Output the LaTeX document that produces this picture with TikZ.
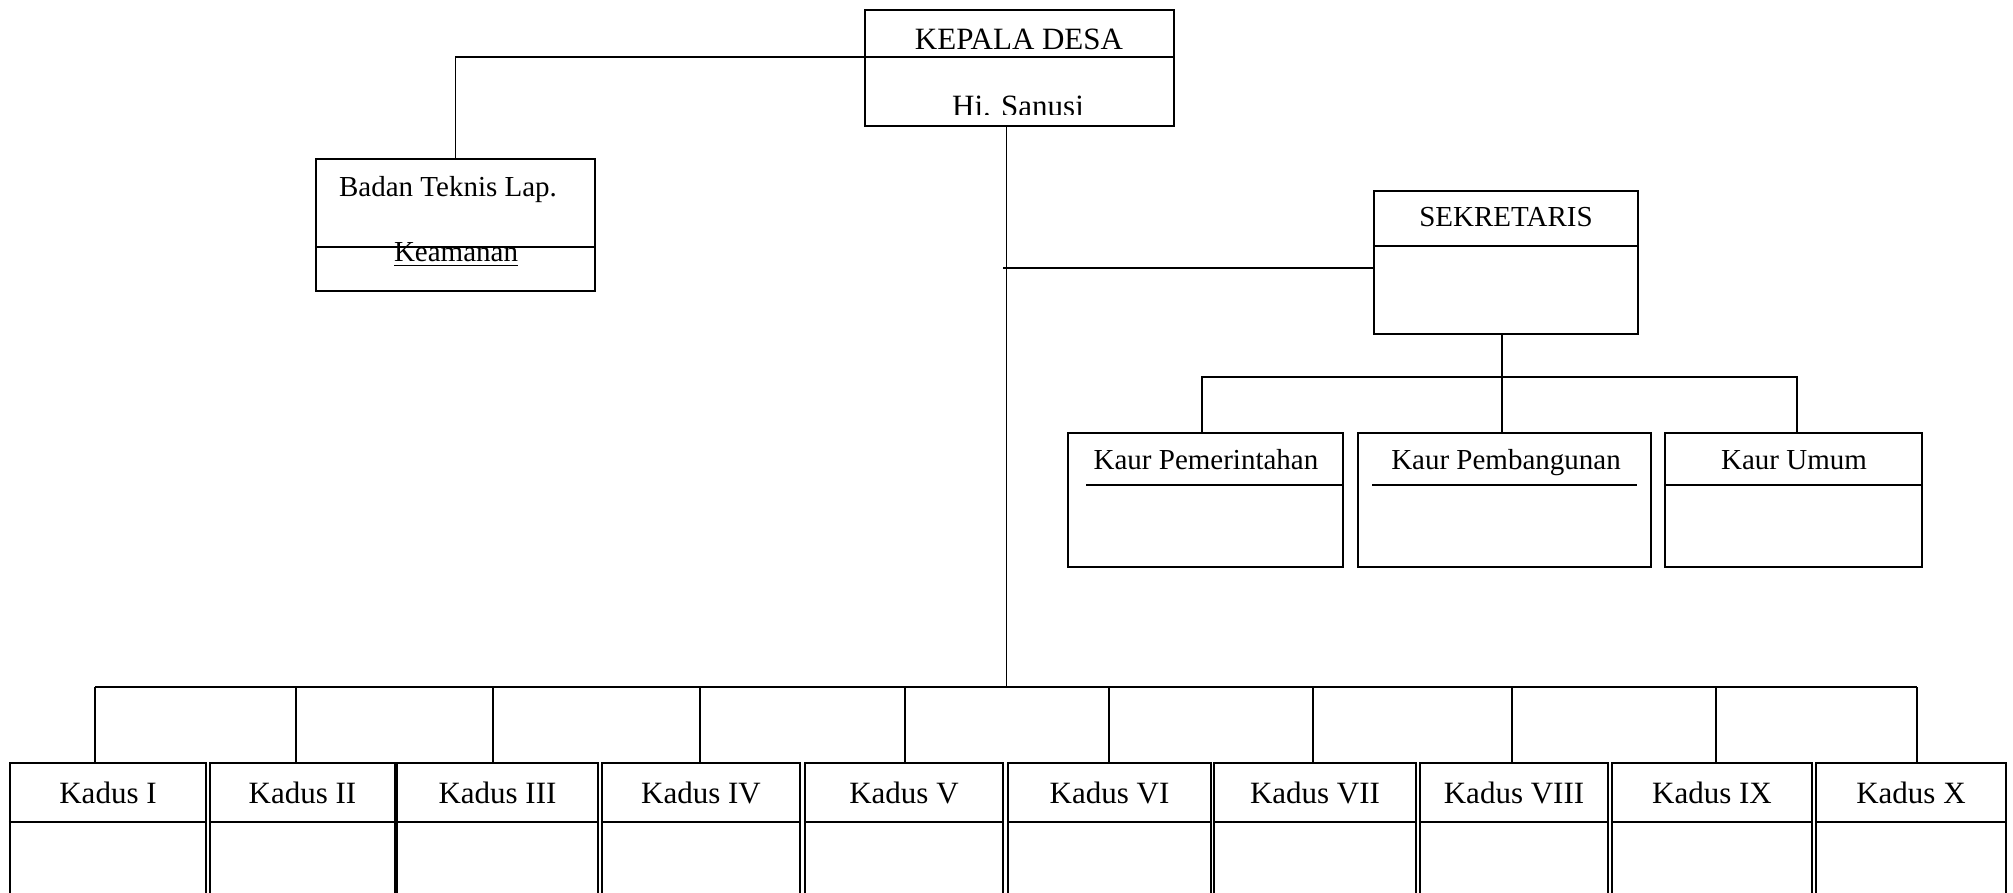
\documentclass[tikz,border=0pt]{standalone}
\usepackage{fontspec}
\setmainfont{Liberation Serif}

\begin{document}
\begin{tikzpicture}[x=0.5pt, y=-0.5pt,
    box/.style={draw, line width=1.1pt, inner sep=0pt},
    link/.style={line width=0.9pt},
    big/.style={font=\fontsize{15.5}{18}\selectfont, inner sep=0pt, anchor=base},
    small/.style={font=\fontsize{14.5}{17}\selectfont, inner sep=0pt, anchor=base}
]
\useasboundingbox (0,0) rectangle (2013,893);
\clip (0,0) rectangle (2013,893);

% Kepala Desa
\node[box, minimum width=154.5pt, minimum height=58pt] (kades) at (1019.5,68) {};
\draw[box] (kades.west |- 0,57) -- (kades.east |- 0,57);
\node[big] (kadestitle) at (1019,50) {KEPALA DESA};
\begin{scope}
  \clip (kades.west |- 0,58) rectangle (kades.east |- 0,115);
  \node[big] (kadesname) at (1018,117) {Hi. Sanusi};
\end{scope}

% Badan Teknis
\node[box, minimum width=139.5pt, minimum height=66pt] (btl) at (455.5,225) {};
\draw[box] (btl.west |- 0,247) -- (btl.east |- 0,247);
\node[small] (btltitle) at (448,197) {Badan Teknis Lap.};
\node[small] (btlname) at (456,262) {\underline{Keamanan}};
\draw[link] (kades.west |- 0,57) -| (btl.north);

% Sekretaris
\node[box, minimum width=132pt, minimum height=71.5pt] (sek) at (1506,262.5) {};
\draw[box] (sek.west |- 0,246) -- (sek.east |- 0,246);
\node[small] (sektitle) at (1506,227) {SEKRETARIS};

% Kaur
\node[box, minimum width=137.5pt, minimum height=67pt] (kaurpem) at (1205.5,500) {};
\node[box, minimum width=146.5pt, minimum height=67pt] (kaurbang) at (1504.5,500) {};
\node[box, minimum width=128.5pt, minimum height=67pt] (kaurum) at (1793.5,500) {};
\draw[box] (1086,485) -- (kaurpem.east |- 0,485);
\draw[box] (1372,485) -- (1637,485);
\draw[box] (kaurum.west |- 0,485) -- (kaurum.east |- 0,485);
\node[small] (kaurpemtitle) at (1206,469) {Kaur Pemerintahan};
\node[small] (kaurbangtitle) at (1506,469) {Kaur Pembangunan};
\node[small] (kaurumtitle) at (1794,469) {Kaur Umum};

\draw[link] (sek.south -| 1502,0) -- ++(0,42) coordinate (kaurbus);
\draw[link] (kaurpem.north -| 1202,0) |- (kaurbus) -| (kaurum.north -| 1797,0);
\draw[link] (kaurbus) -- (kaurbus |- kaurbang.north);

% Kadus
\foreach \l/\r/\d/\num [count=\i] in {10/206/95/I, 210/395/296/II, 397/598/493/III,
    602/800/700/IV, 805/1003/905/V, 1008/1211/1109/VI, 1214/1416/1313/VII,
    1420/1608/1512/VIII, 1612/1812/1716/IX, 1816/2006/1917/X} {
  \node[box, minimum width={(\r-\l)*0.5pt}, minimum height=98.5pt]
    (kadus\i) at ({(\l+\r)/2},861.5) {};
  \draw[box] (kadus\i.west |- 0,822) -- (kadus\i.east |- 0,822);
  \node[big] (kadustitle\i) at ({(\l+\r)/2},803) {Kadus \num};
  \coordinate (drop\i) at (\d,687);
  \draw[link] (drop\i) -- (drop\i |- kadus\i.north);
}
\draw[link] (drop1) -- (drop10);

% trunk
\coordinate (trunk) at (1006.5,126);
\draw[link] (trunk) -- (trunk |- drop1);
\draw[link] (sek.west |- 0,268) -- (1003,268);
\end{tikzpicture}
\end{document}
